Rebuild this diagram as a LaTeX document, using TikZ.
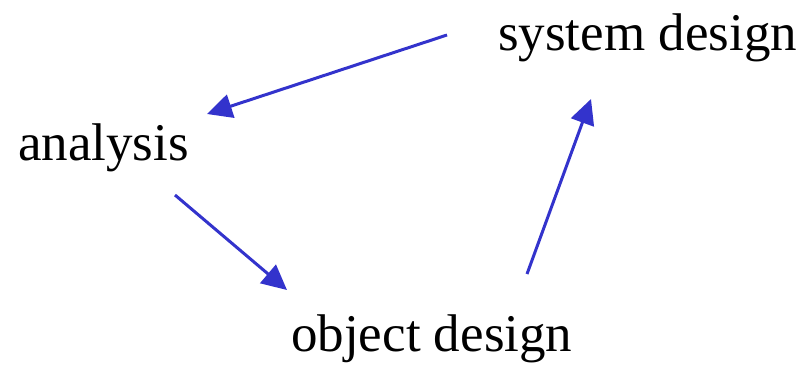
\documentclass[tikz,border=0pt]{standalone}
\usepackage{fontspec}
\setmainfont{Liberation Serif}
\usetikzlibrary{arrows.meta}
\definecolor{arrowblue}{HTML}{3333CC}
\tikzset{
  lbl/.style={anchor=base west, inner sep=0pt, font=\fontsize{53}{60}\selectfont},
  flow/.style={draw=arrowblue, line width=3pt, -{Triangle[length=25pt,width=24pt]}}
}
\begin{document}
\begin{tikzpicture}[x=1pt,y=-1pt]
\useasboundingbox (0,0) rectangle (806,365);
\node[lbl] (sys) at (498,50) {system design};
\node[lbl] (ana) at (18,160) {analysis};
\node[lbl] (obj) at (291,351) {object design};
\coordinate (s1) at (447,35);
\coordinate (a1) at (207,114);
\coordinate (a2) at (175,195);
\coordinate (o1) at (287,290);
\coordinate (o2) at (527,274);
\coordinate (s2) at (591,99);
\draw[flow] (s1) -- (a1);
\draw[flow] (a2) -- (o1);
\draw[flow] (o2) -- (s2);
\end{tikzpicture}
\end{document}
